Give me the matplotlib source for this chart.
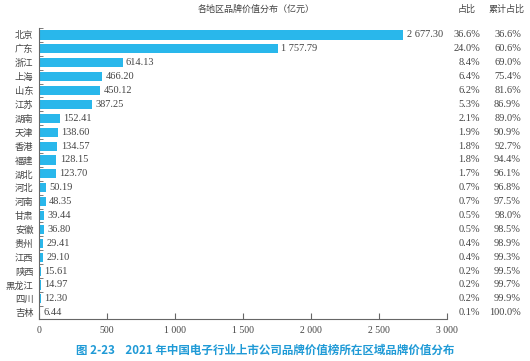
import matplotlib
matplotlib.use("Agg")
import matplotlib.pyplot as plt
from matplotlib.ticker import FixedLocator

regions = ["北京", "广东", "浙江", "上海", "山东", "江苏", "湖南", "天津", "香港", "福建", "湖北",
           "河北", "河南", "甘肃", "安徽", "贵州", "江西", "陕西", "黑龙江", "四川", "吉林"]
values = [2677.30, 1757.79, 614.13, 466.20, 450.12, 387.25, 152.41, 138.60, 134.57, 128.15, 123.70,
          50.19, 48.35, 39.44, 36.80, 29.41, 29.10, 15.61, 14.97, 12.30, 6.44]
shares = ["36.6%", "24.0%", "8.4%", "6.4%", "6.2%", "5.3%", "2.1%", "1.9%", "1.8%", "1.8%", "1.7%",
          "0.7%", "0.7%", "0.5%", "0.5%", "0.4%", "0.4%", "0.2%", "0.2%", "0.2%", "0.1%"]
cumulative = ["36.6%", "60.6%", "69.0%", "75.4%", "81.6%", "86.9%", "89.0%", "90.9%", "92.7%", "94.4%",
              "96.1%", "96.8%", "97.5%", "98.0%", "98.5%", "98.9%", "99.3%", "99.5%", "99.7%", "99.9%",
              "100.0%"]
xticks = [0, 500, 1000, 1500, 2000, 2500, 3000]
xtick_labels = ["0", "500", "1 000", "1 500", "2 000", "2 500", "3 000"]

CJK = ["Noto Sans CJK SC", "DejaVu Sans"]
NUM = ["Liberation Serif", "Noto Sans CJK SC"]
txt = "#444444"
bar_color = "#29b7eb"

fig = plt.figure(figsize=(5.30, 3.61), dpi=100)
ax = fig.add_axes([0.0736, 0.1163, 0.7698, 0.806])

y = list(range(len(regions)))
ax.barh(y, values, height=0.65, color=bar_color)
ax.set_xlim(0, 3000)
ax.set_ylim(20.45, -0.5)

for yi, v in zip(y, values):
    s = f"{v:,.2f}".replace(",", " ")
    ax.text(v + 25, yi, s, va="center", ha="left", fontsize=7.5, family=NUM, color=txt)

ax.set_yticks(y)
ax.set_yticklabels(regions, family=CJK, fontsize=6.7, color=txt)
ax.yaxis.set_minor_locator(FixedLocator([i + 0.5 for i in range(-1, 20)]))
ax.tick_params(axis="y", which="major", length=0, pad=4)
ax.tick_params(axis="y", which="minor", direction="in", length=3, color="#666666")

ax.set_xticks(xticks)
ax.set_xticklabels(xtick_labels, family=NUM, fontsize=7, color=txt)
ax.tick_params(axis="x", direction="in", length=4, color="#666666", pad=5)

for side in ["top", "right"]:
    ax.spines[side].set_visible(False)
for side in ["left", "bottom"]:
    ax.spines[side].set_color("#666666")
    ax.spines[side].set_linewidth(0.8)

fig.canvas.draw()
inv = fig.transFigure.inverted()
for yi, s1, s2 in zip(y, shares, cumulative):
    yy = inv.transform(ax.transData.transform((0, yi)))[1]
    fig.text(480 / 530, yy, s1, ha="right", va="center", fontsize=7.5, family=NUM, color=txt)
    fig.text(521 / 530, yy, s2, ha="right", va="center", fontsize=7.5, family=NUM, color=txt)

fig.text(467 / 530, 1 - 9 / 361, "占比", ha="center", va="center", fontsize=6.5, family=CJK, color=txt)
fig.text(507 / 530, 1 - 9 / 361, "累计占比", ha="center", va="center", fontsize=6.5, family=CJK, color=txt)
fig.text(256 / 530, 1 - 9 / 361, "各地区品牌价值分布（亿元）", ha="center", va="center",
         fontsize=6.5, family=CJK, color=txt)

fig.text(265 / 530, 1 - 350 / 361, "图 2-23    2021 年中国电子行业上市公司品牌价值榜所在区域品牌价值分布",
         ha="center", va="center", fontsize=8.3, family=CJK, color="#1f9ad6", fontweight="bold")

fig.savefig("out.png", dpi=100)
